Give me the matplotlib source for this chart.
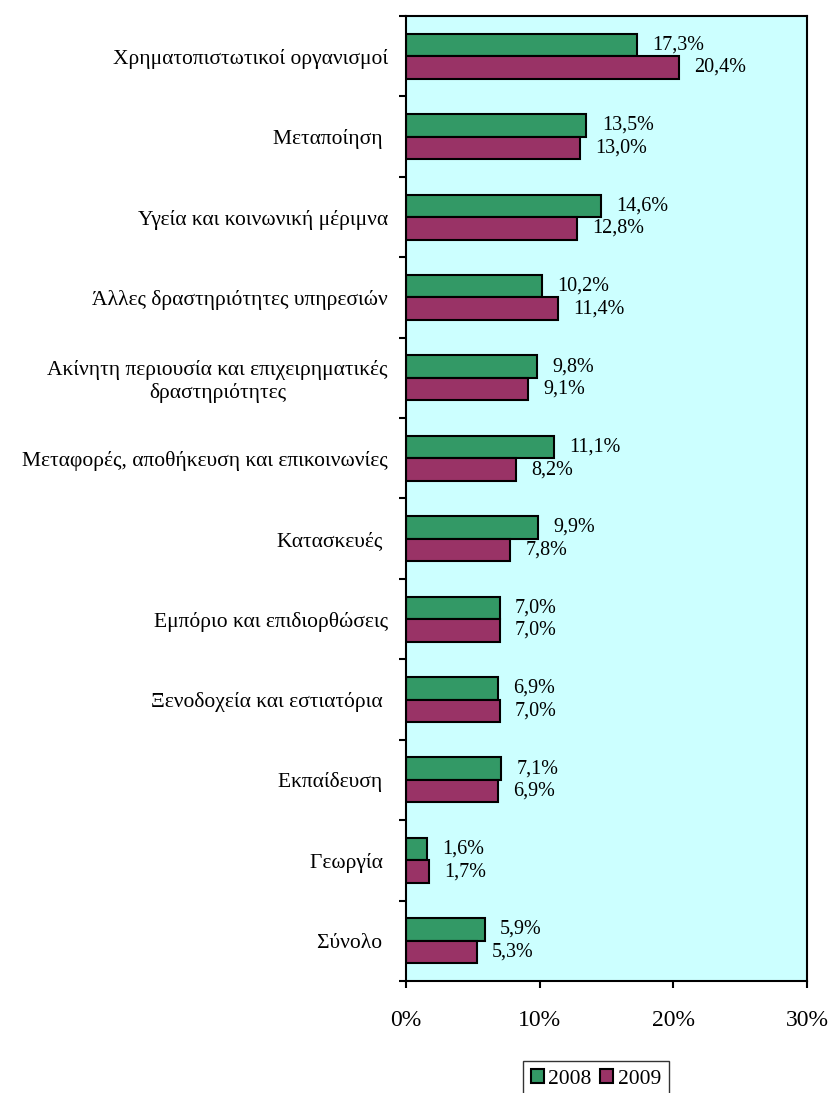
import numpy as np
import matplotlib.pyplot as plt
from matplotlib.ticker import FixedLocator, PercentFormatter

plt.rcParams['font.family'] = ['Liberation Serif', 'DejaVu Serif']

sectors = ['Χρηματοπιστωτικοί οργανισμοί', 'Μεταποίηση ', 'Υγεία και κοινωνική μέριμνα',
           'Άλλες δραστηριότητες υπηρεσιών',
           'Ακίνητη περιουσία και επιχειρηματικές\nδραστηριότητες',
           'Μεταφορές, αποθήκευση και επικοινωνίες', 'Κατασκευές ', 'Εμπόριο και επιδιορθώσεις',
           'Ξενοδοχεία και εστιατόρια ', 'Εκπαίδευση ', 'Γεωργία ', 'Σύνολο ']
v2008 = [17.3, 13.5, 14.6, 10.2, 9.8, 11.1, 9.9, 7.0, 6.9, 7.1, 1.6, 5.9]
v2009 = [20.4, 13.0, 12.8, 11.4, 9.1, 8.2, 7.8, 7.0, 7.0, 6.9, 1.7, 5.3]
years = ['2008', '2009']

fig = plt.figure(figsize=(8.36, 10.93), dpi=100)
ax = fig.add_axes([406/836, 1-981/1093, (807-406)/836, (981-16)/1093])
ax.set_facecolor('#CCFFFF')

y = np.arange(len(sectors))
h = 0.28
b1 = ax.barh(y - h/2, v2008, height=h, color='#339966', edgecolor='black', linewidth=1.5, label=years[0])
b2 = ax.barh(y + h/2, v2009, height=h, color='#993366', edgecolor='black', linewidth=1.5, label=years[1])

for bars, vals in [(b1, v2008), (b2, v2009)]:
    for r, v in zip(bars, vals):
        ax.annotate(f'{v:.1f}%'.replace('.', ','), (v, r.get_y() + r.get_height()/2),
                    xytext=(11, 0), textcoords='offset points', va='center', ha='left', fontsize=14.5)

ax.set_xlim(0, 30)
ax.set_ylim(len(sectors) - 0.5, -0.5)
ax.set_xticks([0, 10, 20, 30])
ax.xaxis.set_major_formatter(PercentFormatter(decimals=0))
ax.tick_params(axis='x', direction='out', length=5, width=1.5, pad=16, labelsize=17)

ax.set_yticks(y)
ax.set_yticklabels(sectors, fontsize=15.5, multialignment='center')
ax.tick_params(axis='y', which='major', length=0, pad=13)
ax.yaxis.set_minor_locator(FixedLocator(np.arange(-0.5, len(sectors), 1)))
ax.tick_params(axis='y', which='minor', direction='out', length=5, width=1.5)

for s in ax.spines.values():
    s.set_linewidth(1.5)

leg = fig.legend(loc='upper center', bbox_to_anchor=(596/836, 1-1050/1093), ncol=2, fontsize=15.5,
                 frameon=True, fancybox=False, edgecolor='black', handlelength=0.6, handleheight=0.6,
                 handletextpad=0.2, columnspacing=0.4, borderpad=0.4)
leg.get_frame().set_linewidth(1.0)

fig.savefig('out.png', dpi=100)
